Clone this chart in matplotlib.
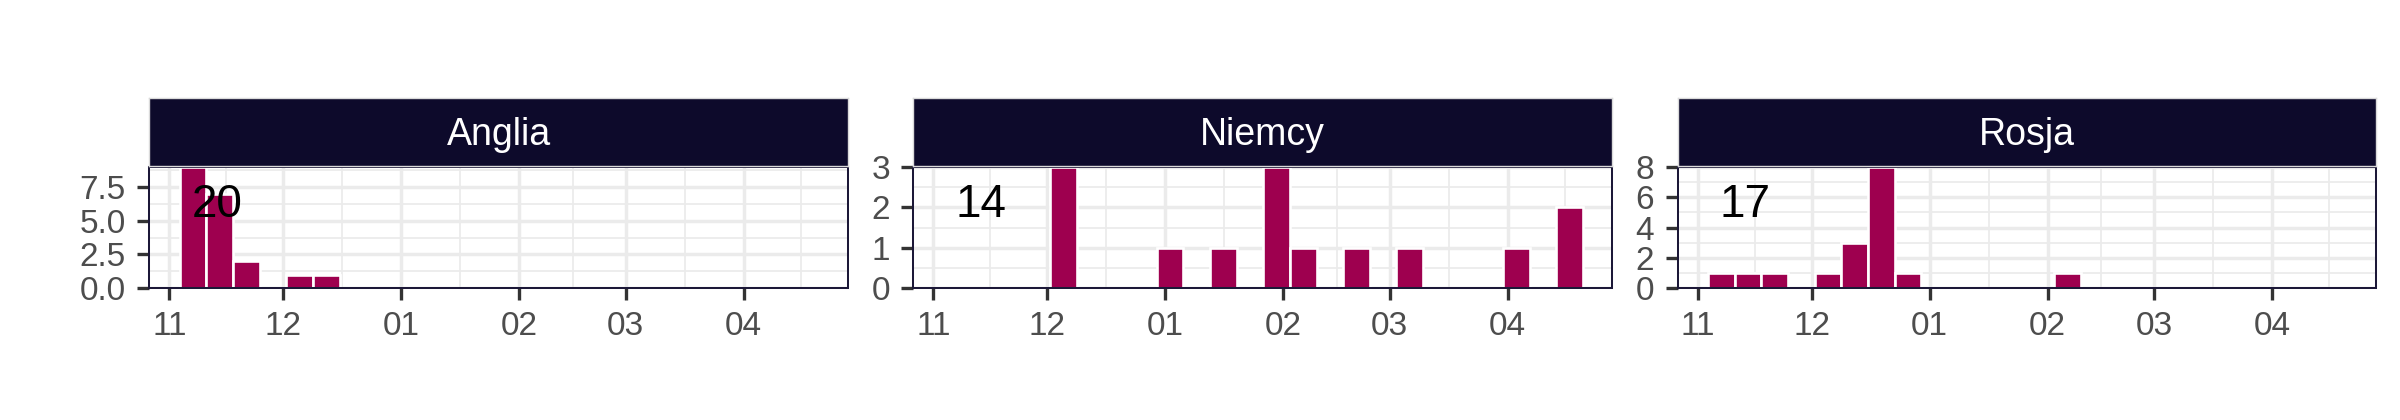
import matplotlib
matplotlib.use("Agg")
import matplotlib.pyplot as plt
import matplotlib.dates as mdates
import numpy as np
import pandas as pd
from matplotlib.ticker import FixedLocator, FixedFormatter

plt.rcParams['font.family'] = ['Liberation Sans', 'DejaVu Sans']

# ---------------- data ----------------
countries = ["Anglia", "Niemcy", "Rosja"]
first_week_start = "2022-11-03 18:00"   # weekly bins (7 days)
anglia = [9, 7, 2, 0, 1, 1, 0, 0, 0, 0, 0, 0, 0, 0, 0, 0, 0, 0, 0, 0, 0, 0, 0, 0]
niemcy = [0, 0, 0, 0, 3, 0, 0, 0, 1, 0, 1, 0, 3, 1, 0, 1, 0, 1, 0, 0, 0, 1, 0, 2]
rosja = [1, 1, 1, 0, 1, 3, 8, 1, 0, 0, 0, 0, 0, 1, 0, 0, 0, 0, 0, 0, 0, 0, 0, 0]
counts = {"Anglia": anglia, "Niemcy": niemcy, "Rosja": rosja}

month_ticks = ["2022-11-01", "2022-12-01", "2023-01-01", "2023-02-01",
               "2023-03-01", "2023-04-01", "2023-05-01"]
month_labels = ["11", "12", "01", "02", "03", "04"]
x_range = ["2022-10-26 18:00", "2023-04-28 08:00"]

y_major = {"Anglia": [0, 2.5, 5, 7.5], "Niemcy": [0, 1, 2, 3], "Rosja": [0, 2, 4, 6, 8]}
y_labels = {"Anglia": ["0.0", "2.5", "5.0", "7.5"], "Niemcy": ["0", "1", "2", "3"],
            "Rosja": ["0", "2", "4", "6", "8"]}

# ---------------- style ----------------
BAR = "#9E004F"
STRIP = "#0D0A2B"
BORDER = "#1C1838"
GRID = "#EBEBEB"
TICKLAB = "#4D4D4D"

W, H = 2400, 420
fig = plt.figure(figsize=(W / 100, H / 100), dpi=100)

lefts = [149.3, 913.3, 1677.7]
ax_w = 698.4
ax_top, ax_bot = 167.0, 288.0
strip_top, strip_bot = 97.5, 165.5

n = len(anglia)
week_starts = pd.date_range(first_week_start, periods=n, freq="7D")
xs = mdates.date2num(week_starts.to_pydatetime())
tick_nums = mdates.date2num(pd.to_datetime(month_ticks).to_pydatetime())
major_x = tick_nums[:-1]
minor_x = (tick_nums[:-1] + tick_nums[1:]) / 2
xlim = mdates.date2num(pd.to_datetime(x_range).to_pydatetime())

for i, c in enumerate(countries):
    L = lefts[i]
    ax = fig.add_axes([L / W, (H - ax_bot) / H, ax_w / W, (ax_bot - ax_top) / H])
    vals = np.array(counts[c])
    mask = vals > 0
    ax.bar(xs[mask], vals[mask], width=7, align='edge', color=BAR,
           edgecolor='white', linewidth=1.9, zorder=2)
    ax.set_xlim(*xlim)
    ymax = vals.max()
    ax.set_ylim(0, ymax)

    ax.xaxis.set_major_locator(FixedLocator(major_x))
    ax.xaxis.set_major_formatter(FixedFormatter(month_labels))
    ax.xaxis.set_minor_locator(FixedLocator(minor_x))
    yt = np.array(y_major[c], dtype=float)
    step = yt[1] - yt[0]
    ym = yt + step / 2
    ym = ym[ym < ymax]
    ax.yaxis.set_major_locator(FixedLocator(yt))
    ax.yaxis.set_major_formatter(FixedFormatter(y_labels[c]))
    ax.yaxis.set_minor_locator(FixedLocator(ym))

    ax.set_axisbelow(True)
    ax.grid(which='major', color=GRID, linewidth=2.45)
    ax.grid(which='minor', color=GRID, linewidth=1.25)
    ax.tick_params(which='major', length=8.8, width=2.4, color='#333333',
                   labelsize=24, labelcolor=TICKLAB, pad=8.0)
    ax.tick_params(which='minor', length=0)
    for s in ax.spines.values():
        s.set_color(BORDER)
        s.set_linewidth(1.45)
        s.set_zorder(3)

    ax.text(0.097, 0.588, str(int(vals.sum())), transform=ax.transAxes,
            ha='center', va='baseline', fontsize=33, color='black', zorder=4)

    sax = fig.add_axes([L / W, (H - strip_bot) / H, ax_w / W, (strip_bot - strip_top) / H])
    sax.set_facecolor(STRIP)
    sax.set_xticks([])
    sax.set_yticks([])
    for s in sax.spines.values():
        s.set_color('#DADADA')
        s.set_linewidth(1.0)
    sax.text(0.5, 0.30, c, transform=sax.transAxes, ha='center', va='baseline',
             fontsize=27, color='white')

fig.savefig("out.png", dpi=100, facecolor='white')
